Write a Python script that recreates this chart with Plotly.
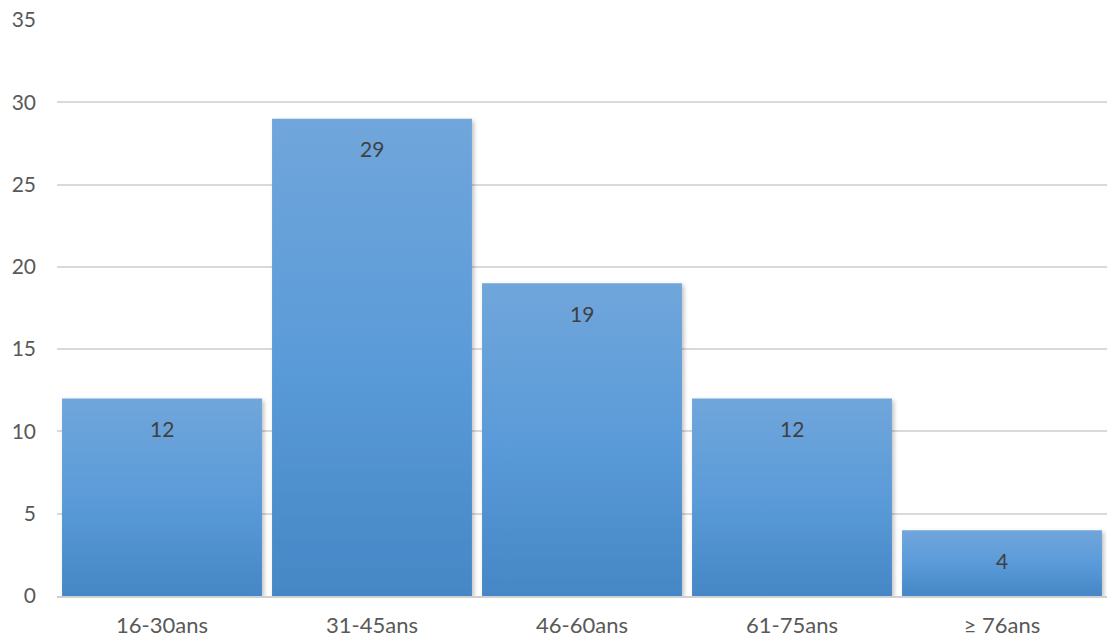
import plotly.graph_objects as go

categories = ["16-30ans", "31-45ans", "46-60ans", "61-75ans", "≥ 76ans"]
values = [12, 29, 19, 12, 4]
y_ticks = [0, 5, 10, 15, 20, 25, 30, 35]

FONT = "Lato, 'Open Sans', sans-serif"

fig = go.Figure()
fig.add_trace(go.Bar(
    x=categories,
    y=values,
    marker=dict(color="#5799d5", line=dict(color="#4a8ccb", width=0.5)),
    hoverinfo="x+y",
))

for c, v in zip(categories, values):
    fig.add_annotation(
        x=c, y=v, text=str(v), showarrow=False, yanchor="middle",
        yshift=-30, font=dict(family=FONT, size=21, color="#404040"),
    )

fig.update_layout(
    width=1107, height=637,
    margin=dict(l=57, r=0, t=20, b=41, autoexpand=False),
    paper_bgcolor="white", plot_bgcolor="white",
    bargap=0.048,
    showlegend=False,
    font=dict(family=FONT, size=21, color="#595959"),
    xaxis=dict(
        showgrid=False, showline=True, linecolor="#d0d0d0", linewidth=1.5,
        ticks="", automargin=False, ticklabelstandoff=9,
        tickfont=dict(family=FONT, size=22, color="#595959"),
    ),
    yaxis=dict(
        range=[0, 35], tickvals=y_ticks, showgrid=True, gridcolor="#d9d9d9",
        gridwidth=1.5, zeroline=False, showline=False, ticks="",
        automargin=False, ticklabelstandoff=20,
        tickfont=dict(family=FONT, size=21, color="#595959"),
    ),
)

# Gradient fill + soft shadow on the bars (Excel-like style)
post_js = """
(function(){
  var gd = document.getElementById('{plot_id}');
  function style(){
    var svg = gd.querySelector('svg.main-svg');
    if(!svg) return;
    var ns = 'http://www.w3.org/2000/svg';
    if(!document.getElementById('bargrad')){
      var defs = document.createElementNS(ns, 'defs');
      var lg = document.createElementNS(ns, 'linearGradient');
      lg.setAttribute('id', 'bargrad');
      lg.setAttribute('x1', '0'); lg.setAttribute('y1', '0');
      lg.setAttribute('x2', '0'); lg.setAttribute('y2', '1');
      [['0%', '#70a6db'], ['50%', '#5b9bd9'], ['100%', '#4587c6']].forEach(function(s){
        var st = document.createElementNS(ns, 'stop');
        st.setAttribute('offset', s[0]); st.setAttribute('stop-color', s[1]);
        lg.appendChild(st);
      });
      defs.appendChild(lg);
      var f = document.createElementNS(ns, 'filter');
      f.setAttribute('id', 'barshadow');
      f.setAttribute('x', '-5%'); f.setAttribute('y', '-5%');
      f.setAttribute('width', '115%'); f.setAttribute('height', '115%');
      var ds = document.createElementNS(ns, 'feDropShadow');
      ds.setAttribute('dx', '2'); ds.setAttribute('dy', '2');
      ds.setAttribute('stdDeviation', '2');
      ds.setAttribute('flood-color', '#000'); ds.setAttribute('flood-opacity', '0.25');
      f.appendChild(ds);
      defs.appendChild(f);
      svg.insertBefore(defs, svg.firstChild);
    }
    gd.querySelectorAll('.bars .point path').forEach(function(p){
      p.style.fill = 'url(#bargrad)';
      p.style.stroke = 'none';
      p.setAttribute('filter', 'url(#barshadow)');
    });
  }
  style();
  gd.on && gd.on('plotly_afterplot', style);
})();
"""

fig.write_html("out.html", config={"displayModeBar": False}, post_script=post_js)

with open("out.html", "r", encoding="utf-8") as f:
    html = f.read()
html = html.replace("<body>", '<body style="margin:0;padding:0;overflow:hidden">', 1)
with open("out.html", "w", encoding="utf-8") as f:
    f.write(html)
